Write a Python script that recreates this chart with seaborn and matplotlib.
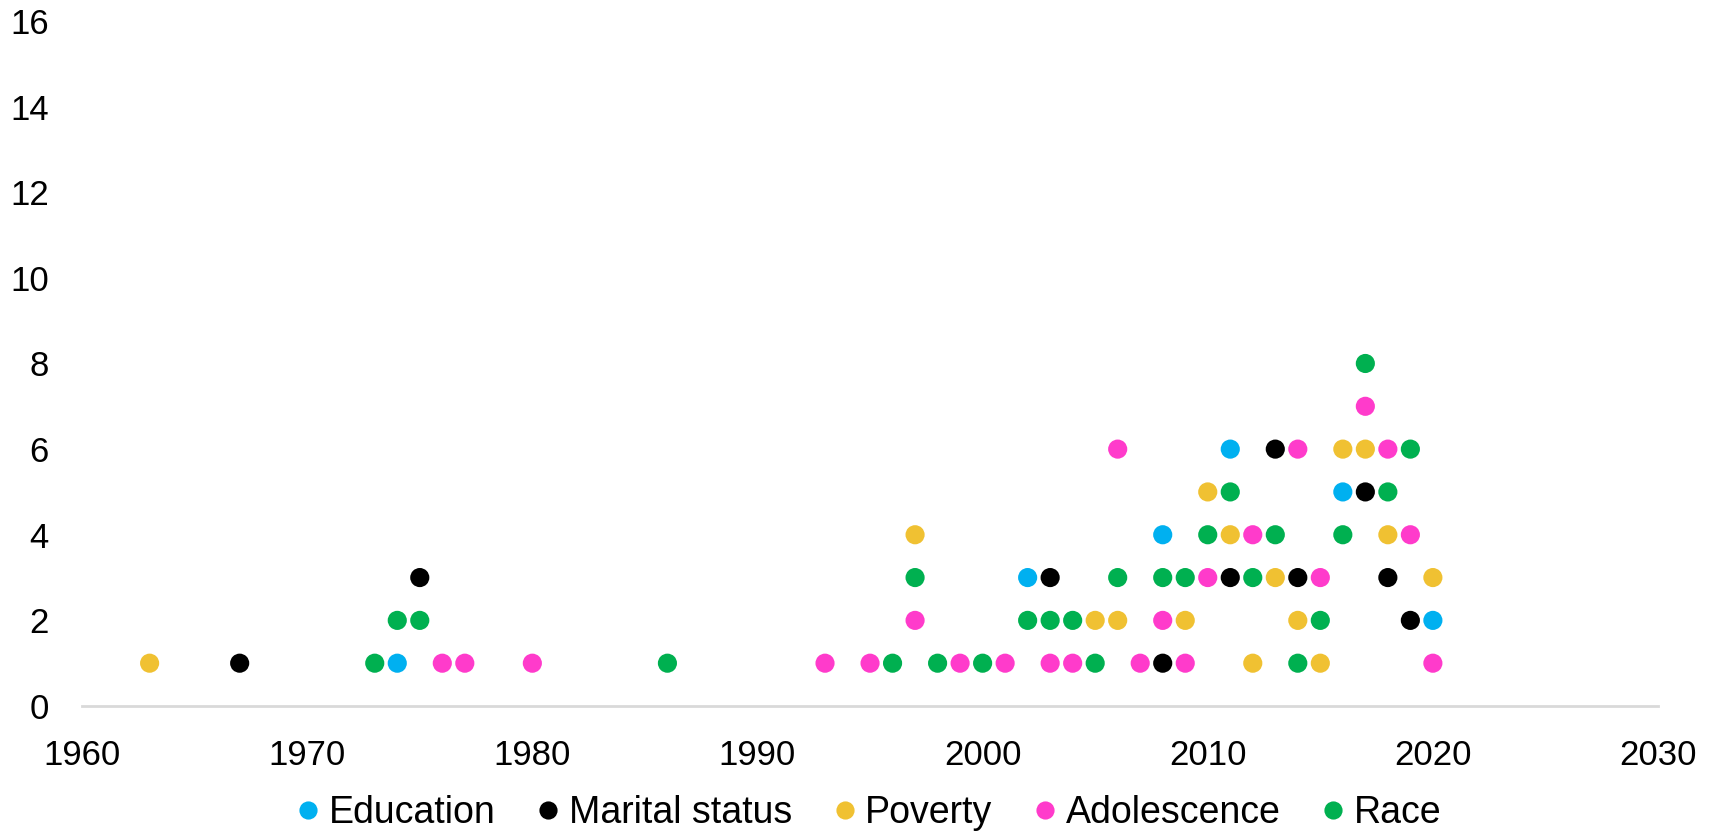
import matplotlib
matplotlib.use("Agg")
import matplotlib.pyplot as plt
import numpy as np
import pandas as pd
import seaborn as sns

# values, year -> count
edu_years = [1974, 2002, 2008, 2011, 2016, 2020]
edu_vals = [1, 3, 4, 6, 5, 2]

marital_years = [1967, 1975, 2003, 2008, 2011, 2013, 2014, 2017, 2018, 2019]
marital_vals = [1, 3, 3, 1, 3, 6, 3, 5, 3, 2]

poverty_years = [1963, 1997, 2005, 2006, 2009, 2010, 2011, 2012, 2013, 2014,
                 2015, 2016, 2017, 2018, 2020]
poverty_vals = [1, 4, 2, 2, 2, 5, 4, 1, 3, 2, 1, 6, 6, 4, 3]

adol_years = [1976, 1977, 1980, 1993, 1995, 1997, 1999, 2001, 2003, 2004, 2006,
              2007, 2008, 2009, 2010, 2012, 2014, 2015, 2017, 2018, 2019, 2020]
adol_vals = [1, 1, 1, 1, 1, 2, 1, 1, 1, 1, 6, 1, 2, 1, 3, 4, 6, 3, 7, 6, 4, 1]

race_years = [1973, 1974, 1975, 1986, 1996, 1997, 1998, 2000, 2002, 2003, 2004,
              2005, 2006, 2008, 2009, 2010, 2011, 2012, 2013, 2014, 2015, 2016,
              2017, 2018, 2019]
race_vals = [1, 2, 2, 1, 1, 3, 1, 1, 2, 2, 2, 1, 3, 3, 3, 4, 5, 3, 4, 1, 2, 4,
             8, 5, 6]

series = ["Education", "Marital status", "Poverty", "Adolescence", "Race"]
colors = ["#00B0F0", "#000000", "#F0C132", "#FF3BCB", "#00B050"]

frames = []
for name, yrs, vals in zip(series,
                           [edu_years, marital_years, poverty_years, adol_years, race_years],
                           [edu_vals, marital_vals, poverty_vals, adol_vals, race_vals]):
    frames.append(pd.DataFrame({"year": yrs, "count": vals, "topic": name}))
df = pd.concat(frames, ignore_index=True)

sns.set_style("white")
plt.rcParams["font.family"] = ["Liberation Sans", "DejaVu Sans"]
plt.rcParams["text.color"] = "black"

fig = plt.figure(figsize=(17.1, 8.38), dpi=100)
ax = fig.add_axes([0.048, 0.1575, 0.9216, 0.8175])

sns.scatterplot(data=df, x="year", y="count", hue="topic", hue_order=series,
                palette=colors, s=190, linewidth=0, ax=ax, zorder=3)

ax.set_xlim(1960, 2030)
ax.set_ylim(0, 16)
ax.set_xticks(np.arange(1960, 2031, 10))
ax.set_yticks(np.arange(0, 17, 2))
ax.tick_params(axis="both", labelsize=25, length=0, labelcolor="black")
ax.tick_params(axis="x", pad=24)
ax.tick_params(axis="y", pad=24)
ax.set_xlabel("")
ax.set_ylabel("")
for side in ["top", "right", "left"]:
    ax.spines[side].set_visible(False)
ax.spines["bottom"].set_color("#D9D9D9")
ax.spines["bottom"].set_linewidth(2)

sns.move_legend(ax, "lower center", bbox_to_anchor=(0.5, -0.232), ncol=5,
                frameon=False, title=None, fontsize=27, markerscale=0.95,
                handlelength=0.5, handletextpad=0.3, columnspacing=1.15)
for t in ax.get_legend().get_texts():
    t.set_color("black")

fig.savefig("out.png", dpi=100)
